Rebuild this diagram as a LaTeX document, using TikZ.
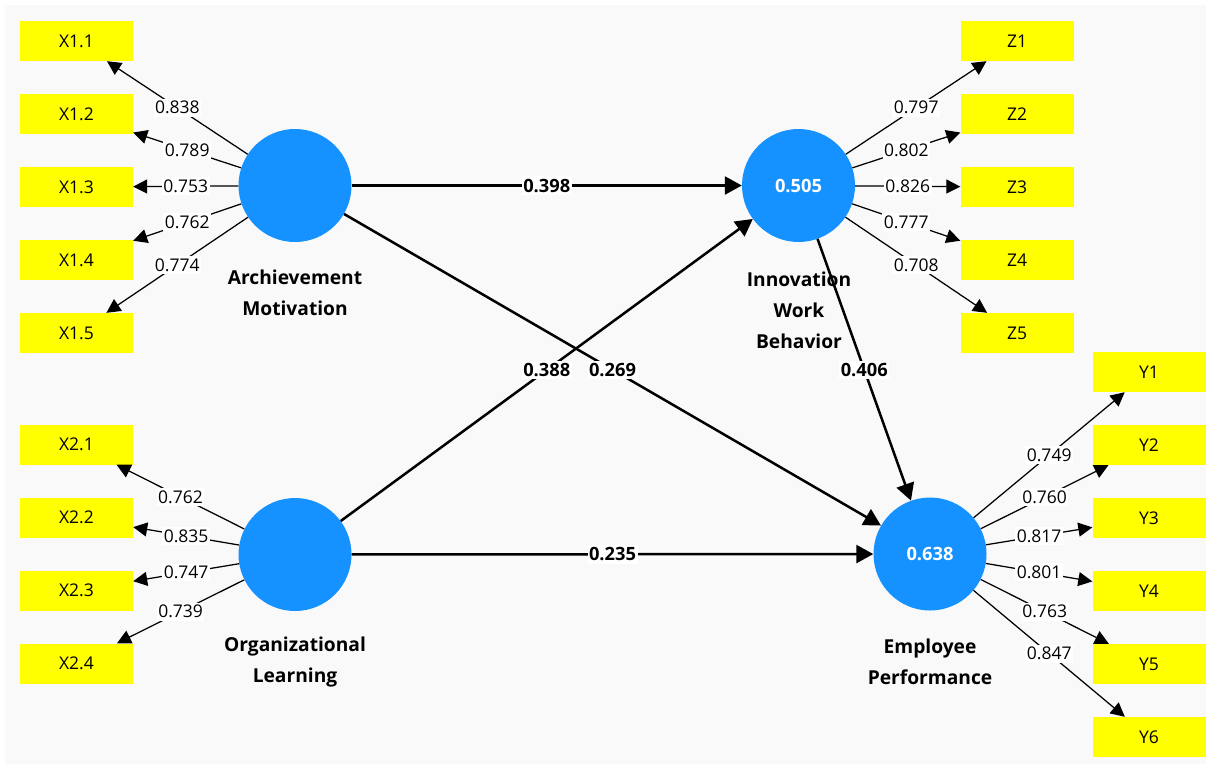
\documentclass[tikz,border=0pt]{standalone}
\usepackage{fontspec}
\setmainfont{Open Sans}
\usetikzlibrary{arrows.meta}
\definecolor{panel}{HTML}{F9F9F9}
\definecolor{lvblue}{RGB}{21,146,255}
\definecolor{indyel}{RGB}{255,255,0}
\newcommand{\labfont}{\fontsize{17.5}{21}\selectfont}
\newcommand{\boldlabfont}{\fontsize{18.3}{21}\selectfont\bfseries}
\tikzset{
  ind/.style={fill=indyel, minimum width=113pt, minimum height=40pt, inner sep=0pt, font=\labfont},
  lv/.style={circle, fill=lvblue, minimum size=113pt, inner sep=0pt, text=white, font=\boldlabfont},
  lvname/.style={align=center, font=\fontsize{19.2}{31}\selectfont\bfseries},
  load/.style={line width=1.25pt, -{Triangle[length=14pt,width=14pt]}},
  path/.style={line width=2.5pt, -{Triangle[length=17pt,width=18pt]}},
  wlab/.style={fill=white, inner xsep=1.5pt, inner ysep=2.5pt, font=\labfont},
  blab/.style={wlab, font=\boldlabfont},
}
\begin{document}
\begin{tikzpicture}[x=1pt,y=-1pt]
\useasboundingbox (0,0) rectangle (1206,764);
\fill[panel] (5,5) rectangle (1206,764);

% indicator boxes
\foreach \i/\y in {1/41,2/114,3/187,4/260,5/333}
  \node[ind] (x1\i) at (76.5,\y) {X1.\i};
\foreach \i/\y in {1/444.5,2/517.5,3/590.5,4/663.5}
  \node[ind] (x2\i) at (76.5,\y) {X2.\i};
\foreach \i/\y in {1/41,2/114,3/187,4/260,5/333}
  \node[ind] (z\i) at (1017,\y) {Z\i};
\foreach \i/\y in {1/372,2/445,3/518,4/591,5/664,6/737}
  \node[ind] (y\i) at (1149,\y) {Y\i};

% latent variables
\node[lv] (am) at (295,185.5) {};
\node[lv] (iwb) at (798.5,185.5) {0.505};
\node[lv] (ol) at (295,554.5) {};
\node[lv] (ep) at (930,554) {0.638};

\node[lvname] (amname) at (295,292.5) {Archievement\\Motivation};
\node[lvname] (iwbname) at (799,310) {Innovation\\Work\\Behavior};
\node[lvname] (olname) at (295,662) {Organizational\\Learning};
\node[lvname] (epname) at (930,661.5) {Employee\\Performance};

% outer loadings
\foreach \i/\v in {1/0.838,2/0.789,3/0.753,4/0.762,5/0.774}
  \draw[load] (am) -- (x1\i) node[midway,wlab] {\v};
\foreach \i/\v in {1/0.762,2/0.835,3/0.747,4/0.739}
  \draw[load] (ol) -- (x2\i) node[midway,wlab] {\v};
\foreach \i/\v in {1/0.797,2/0.802,3/0.826,4/0.777,5/0.708}
  \draw[load] (iwb) -- (z\i) node[midway,wlab] {\v};
\foreach \i/\v in {1/0.749,2/0.760,3/0.817,4/0.801,5/0.763,6/0.847}
  \draw[load] (ep) -- (y\i) node[midway,wlab] {\v};

% path coefficients
\draw[path] (am) -- (iwb) node[midway,blab] {0.398};
\draw[path] (am) -- (ep) node[midway,blab] {0.269};
\draw[path] (ol) -- (iwb) node[midway,blab] {0.388};
\draw[path] (iwb) -- (ep) node[midway,blab] {0.406};
\draw[path] (ol) -- (ep) node[midway,blab] {0.235};
\end{tikzpicture}
\end{document}
